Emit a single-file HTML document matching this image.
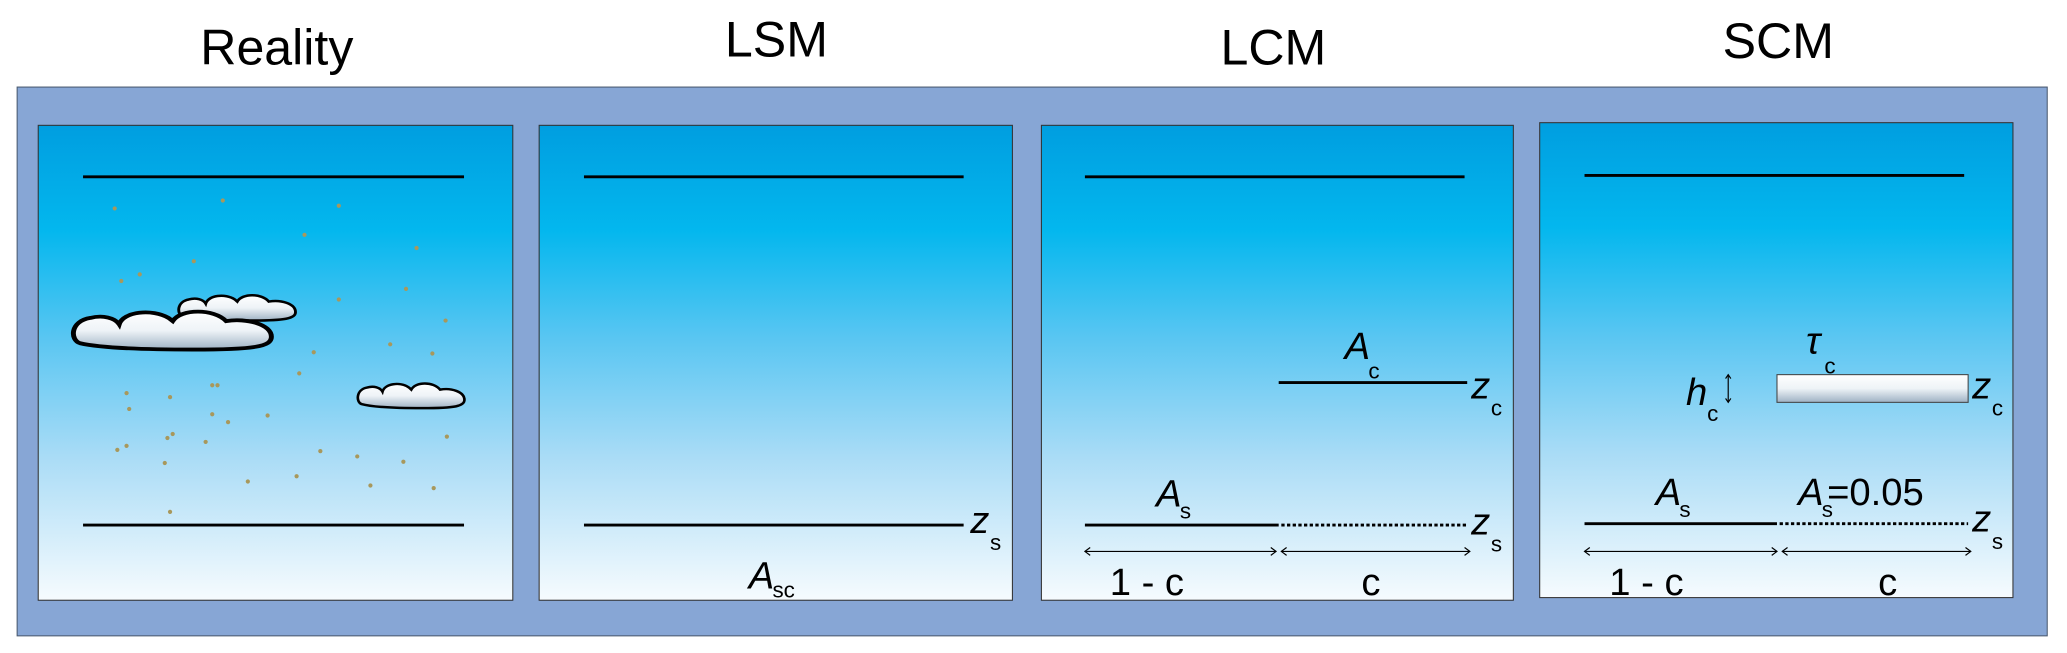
<!DOCTYPE html>
<html><head><meta charset="utf-8">
<style>
html,body{margin:0;padding:0;background:#fff;width:2067px;height:653px;overflow:hidden}
svg{display:block}
text{font-family:"Liberation Sans Narrow","Liberation Sans",sans-serif;fill:#000}
.t{font-size:38px}
.i{font-style:italic;font-size:29px}
.s{font-size:17px}
.n{font-size:29px}
</style></head><body>
<svg width="2067" height="653" viewBox="0 0 1568 495" preserveAspectRatio="none" xmlns="http://www.w3.org/2000/svg">
<defs>
<linearGradient id="sky" x1="0" y1="0" x2="0" y2="1">
<stop offset="0" stop-color="#009ee0"/>
<stop offset="0.22" stop-color="#03b7ee"/>
<stop offset="0.45" stop-color="#5ac6f2"/>
<stop offset="0.7" stop-color="#aadcf6"/>
<stop offset="1" stop-color="#f6fbfe"/>
</linearGradient>
<linearGradient id="cl" x1="0" y1="0" x2="0" y2="1">
<stop offset="0" stop-color="#ffffff"/>
<stop offset="0.5" stop-color="#eef3f7"/>
<stop offset="1" stop-color="#9fb2c4"/>
</linearGradient>
<path id="cloud" d="M5,26 C0,24 0,12 10,10 C16,8 22,10 24,14 C26,6 40,4 48,10 L50,12 C54,4 70,4 76,12 C86,10 98,14 98,22 C98,28 90,30 60,30 C35,30 15,29 5,26 Z"/>
</defs>
<rect x="13" y="66" width="1540" height="416" fill="#87a6d5" stroke="#4a5a70" stroke-width="0.8"/>
<g fill="url(#sky)" stroke="#333" stroke-width="0.8">
<rect x="29" y="95" width="360" height="360"/>
<rect x="409" y="95" width="359" height="360"/>
<rect x="790" y="95" width="358" height="360"/>
<rect x="1168" y="93" width="359" height="360"/>
</g>
<g text-anchor="middle">
<text x="210" y="49" class="t">Reality</text>
<text x="589" y="43" class="t">LSM</text>
<text x="966" y="49" class="t">LCM</text>
<text x="1349" y="44" class="t">SCM</text>
</g>
<g stroke="#000" stroke-width="2.2">
<line x1="63" y1="134" x2="352" y2="134"/>
<line x1="63" y1="398" x2="352" y2="398"/>
<line x1="443" y1="134" x2="731" y2="134"/>
<line x1="443" y1="398" x2="731" y2="398"/>
<line x1="823" y1="134" x2="1111" y2="134"/>
<line x1="970" y1="290" x2="1113" y2="290"/>
<line x1="823" y1="398" x2="970" y2="398"/>
<line x1="972" y1="398" x2="1113" y2="398" stroke-dasharray="2.5,1.8"/>
<line x1="1202" y1="133" x2="1490" y2="133"/>
<line x1="1202" y1="397" x2="1348" y2="397"/>
<line x1="1350" y1="397" x2="1493" y2="397" stroke-dasharray="2.5,1.8"/>
</g>
<g fill="#a8985c">
<circle cx="87" cy="158" r="1.6"/><circle cx="169" cy="152" r="1.6"/><circle cx="257" cy="156" r="1.6"/><circle cx="231" cy="178" r="1.6"/><circle cx="316" cy="188" r="1.6"/><circle cx="147" cy="198" r="1.6"/><circle cx="106" cy="208" r="1.6"/><circle cx="92" cy="213" r="1.6"/><circle cx="308" cy="219" r="1.6"/><circle cx="257" cy="227" r="1.6"/><circle cx="338" cy="243" r="1.6"/><circle cx="296" cy="261" r="1.6"/><circle cx="328" cy="268" r="1.6"/><circle cx="238" cy="267" r="1.6"/><circle cx="227" cy="283" r="1.6"/><circle cx="161" cy="292" r="1.6"/><circle cx="165" cy="292" r="1.6"/><circle cx="96" cy="298" r="1.6"/><circle cx="129" cy="301" r="1.6"/><circle cx="98" cy="310" r="1.6"/><circle cx="161" cy="314" r="1.6"/><circle cx="173" cy="320" r="1.6"/><circle cx="203" cy="315" r="1.6"/><circle cx="339" cy="331" r="1.6"/><circle cx="131" cy="329" r="1.6"/><circle cx="127" cy="332" r="1.6"/><circle cx="156" cy="335" r="1.6"/><circle cx="96" cy="338" r="1.6"/><circle cx="89" cy="341" r="1.6"/><circle cx="243" cy="342" r="1.6"/><circle cx="271" cy="346" r="1.6"/><circle cx="306" cy="350" r="1.6"/><circle cx="125" cy="351" r="1.6"/><circle cx="188" cy="365" r="1.6"/><circle cx="225" cy="361" r="1.6"/><circle cx="281" cy="368" r="1.6"/><circle cx="329" cy="370" r="1.6"/><circle cx="129" cy="388" r="1.6"/>
</g>
<g fill="url(#cl)" stroke="#000" stroke-width="2.4">
<use href="#cloud" transform="translate(134,219) scale(0.92,0.8)" vector-effect="non-scaling-stroke"/>
<use href="#cloud" transform="translate(53,229) scale(1.56,1.2)" vector-effect="non-scaling-stroke"/>
<use href="#cloud" transform="translate(270,286) scale(0.84,0.78)" vector-effect="non-scaling-stroke"/>
</g>
<!-- LSM labels -->
<text x="736" y="404" class="i">z</text><text x="751" y="417" class="s">s</text>
<text x="568" y="446" class="i">A</text><text x="586" y="453" class="s">sc</text>
<!-- LCM labels -->
<text x="1020" y="272" class="i">A</text><text x="1038" y="287" class="s">c</text>
<text x="1116" y="302" class="i">z</text><text x="1131" y="315" class="s">c</text>
<text x="877" y="384" class="i">A</text><text x="895" y="393" class="s">s</text>
<text x="1116" y="405" class="i">z</text><text x="1131" y="418" class="s">s</text>
<!-- SCM labels -->
<text x="1370" y="268" class="i">τ</text><text x="1384" y="283" class="s">c</text>
<text x="1279" y="307" class="i">h</text><text x="1295" y="319" class="s">c</text>
<rect x="1348" y="284" width="145" height="21" fill="url(#cl)" stroke="#444" stroke-width="0.8"/>
<text x="1496" y="302" class="i">z</text><text x="1511" y="315" class="s">c</text>
<text x="1256" y="383" class="i">A</text><text x="1274" y="392" class="s">s</text>
<text x="1364" y="383" class="i">A</text><text x="1382" y="392" class="s">s</text><text x="1386" y="383" class="n">=0.05</text>
<text x="1496" y="403" class="i">z</text><text x="1511" y="416" class="s">s</text>
<!-- dimension arrows -->
<g stroke="#000" stroke-width="0.9" fill="none">
<line x1="823" y1="418" x2="968" y2="418"/><line x1="972" y1="418" x2="1115" y2="418"/>
<path d="M827,415 L823,418 L827,421 M964,415 L968,418 L964,421 M976,415 L972,418 L976,421 M1111,415 L1115,418 L1111,421"/>
<line x1="1202" y1="418" x2="1348" y2="418"/><line x1="1352" y1="418" x2="1495" y2="418"/>
<path d="M1206,415 L1202,418 L1206,421 M1344,415 L1348,418 L1344,421 M1356,415 L1352,418 L1356,421 M1491,415 L1495,418 L1491,421"/>
<line x1="1311" y1="284" x2="1311" y2="305"/>
<path d="M1309,287 L1311,284 L1313,287 M1309,302 L1311,305 L1313,302"/>
</g>
<text x="870" y="451" class="n" text-anchor="middle">1 - c</text>
<text x="1040" y="451" class="n" text-anchor="middle">c</text>
<text x="1249" y="451" class="n" text-anchor="middle">1 - c</text>
<text x="1432" y="451" class="n" text-anchor="middle">c</text>
</svg>
</body></html>
